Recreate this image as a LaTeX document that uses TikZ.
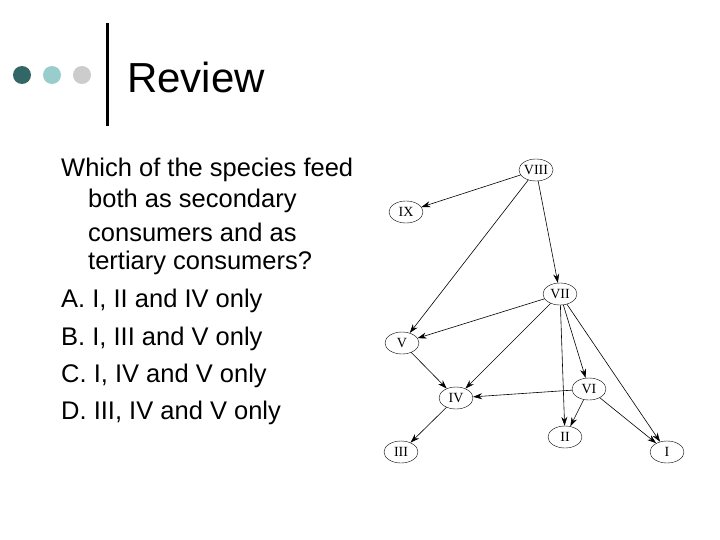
\documentclass[tikz,border=0pt]{standalone}
\usepackage{fontspec}
\setmainfont{Liberation Sans}
\newfontfamily\gfont{Liberation Serif}
\usetikzlibrary{shapes.geometric,arrows.meta}
\begin{document}
\begin{tikzpicture}[x=1pt,y=-1pt,
  sp/.style={draw,ellipse,minimum width=34pt,minimum height=22pt,inner sep=0pt,font=\gfont\fontsize{14}{14}\selectfont},
  ed/.style={-{Stealth[length=9pt,width=6pt]},line width=0.6pt},
  ln/.style={anchor=west,font=\fontsize{25.5}{25.5}\selectfont,inner sep=0pt}]
\useasboundingbox (0,0) rectangle (720,540);
\fill[fill={rgb,255:red,51;green,102;blue,102}] (22,75) circle (9);
\fill[fill={rgb,255:red,153;green,204;blue,204}] (52,75) circle (9);
\fill[fill={rgb,255:red,204;green,204;blue,204}] (82,75) circle (9);
\fill (105.5,23) rectangle (108.5,126);
\node[anchor=west,inner sep=0pt,font=\fontsize{42}{42}\selectfont] (t) at (127,77) {Review};
\node[ln] (l1) at (61,170) {Which of the species feed};
\node[ln] (l2) at (88,201) {both as secondary};
\node[ln] (l3) at (88,232) {consumers and as};
\node[ln] (l4) at (88,263) {tertiary consumers?};
\node[ln] (l5) at (61,301) {A. I, II and IV only};
\node[ln] (l6) at (61,339) {B. I, III and V only};
\node[ln] (l7) at (61,376) {C. I, IV and V only};
\node[ln] (l8) at (61,413) {D. III, IV and V only};
\node[sp] (n8) at (536,170) {VIII};
\node[sp] (n9) at (406,212) {IX};
\node[sp] (n7) at (560,294) {VII};
\node[sp] (n5) at (402,343) {V};
\node[sp] (n6) at (589,389) {VI};
\node[sp] (n4) at (456,398) {IV};
\node[sp] (n2) at (565,437) {II};
\node[sp] (n3) at (401,452) {III};
\node[sp] (n1) at (667,452) {I};
\draw[ed] (n8) -- (n9);
\draw[ed] (n8) -- (n5);
\draw[ed] (n8) -- (n7);
\draw[ed] (n7) -- (n5);
\draw[ed] (n7) -- (n4);
\draw[ed] (n7) -- (n2);
\draw[ed] (n7) -- (n6);
\draw[ed] (n7) -- (n1);
\draw[ed] (n5) -- (n4);
\draw[ed] (n6) -- (n4);
\draw[ed] (n6) -- (n2);
\draw[ed] (n6) -- (n1);
\draw[ed] (n4) -- (n3);
\end{tikzpicture}
\end{document}
